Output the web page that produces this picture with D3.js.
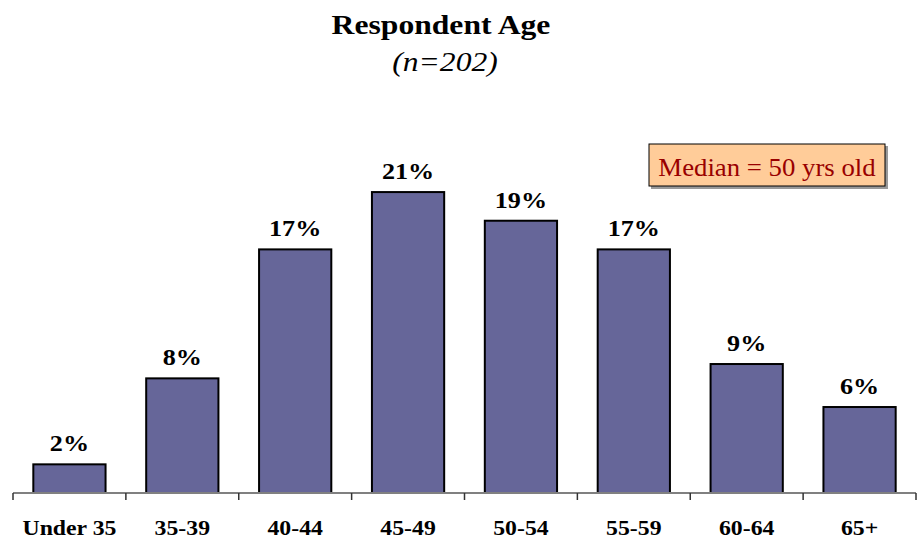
<!DOCTYPE html>
<html>
<head>
<meta charset="utf-8">
<script src="https://cdn.jsdelivr.net/npm/d3@7"></script>
<style>
  body { margin: 0; background: #fff; }
  text { font-family: "Liberation Serif", "Times New Roman", serif; }
</style>
</head>
<body>
<div id="chart-area"></div>
<script>
// data
var categories = ["Under 35", "35-39", "40-44", "45-49", "50-54", "55-59", "60-64", "65+"];
var values = [2, 8, 17, 21, 19, 17, 9, 6];
var medianNote = "Median = 50 yrs old";

var width = 917, height = 539;

var svg = d3.select("#chart-area")
  .append("svg")
  .attr("width", width)
  .attr("height", height);

// the original picture is a bit stretched sideways, so text gets a scaleX
function place(x, y, sx) {
  return "translate(" + x + "," + y + ") scale(" + sx + ",1)";
}

// scales
var xScale = d3.scaleBand()
  .domain(categories)
  .range([13, 916])
  .paddingInner(0.36)
  .paddingOuter(0.18);

var yScale = d3.scaleLinear()
  .domain([0, 25])
  .range([493, 134.75]);

// title
svg.append("text")
  .attr("transform", place(441, 34, 1.13))
  .attr("text-anchor", "middle")
  .attr("font-size", 28)
  .attr("font-weight", "bold")
  .text("Respondent Age");

svg.append("text")
  .attr("transform", place(445, 71, 1.17))
  .attr("text-anchor", "middle")
  .attr("font-size", 27)
  .attr("font-style", "italic")
  .text("(n=202)");

// bars
svg.selectAll("rect.bar")
  .data(values)
  .enter()
  .append("rect")
  .attr("class", "bar")
  .attr("x", function(d, i) { return xScale(categories[i]); })
  .attr("y", function(d) { return yScale(d); })
  .attr("width", xScale.bandwidth())
  .attr("height", function(d) { return yScale(0) - yScale(d); })
  .attr("fill", "#666699")
  .attr("stroke", "#000")
  .attr("stroke-width", 2);

// value labels
svg.selectAll("text.val")
  .data(values)
  .enter()
  .append("text")
  .attr("class", "val")
  .attr("transform", function(d, i) {
    return place(xScale(categories[i]) + xScale.bandwidth() / 2, yScale(d) - 13, 1.09);
  })
  .attr("text-anchor", "middle")
  .attr("font-size", 24)
  .attr("font-weight", "bold")
  .text(function(d) { return d + "%"; });

// x axis (ticks between categories)
var axis = svg.append("g").attr("class", "x-axis");
axis.append("line")
  .attr("x1", 13).attr("x2", 916)
  .attr("y1", yScale(0)).attr("y2", yScale(0))
  .attr("stroke", "#808080")
  .attr("stroke-width", 2);

var tickPos = d3.range(categories.length + 1).map(function(i) { return 13 + i * xScale.step(); });
axis.selectAll("line.tick")
  .data(tickPos)
  .enter()
  .append("line")
  .attr("class", "tick")
  .attr("x1", function(d) { return d; })
  .attr("x2", function(d) { return d; })
  .attr("y1", yScale(0))
  .attr("y2", yScale(0) + 7)
  .attr("stroke", "#333")
  .attr("stroke-width", 1.5);

axis.selectAll("text")
  .data(categories)
  .enter()
  .append("text")
  .attr("transform", function(d) { return place(xScale(d) + xScale.bandwidth() / 2, 535, 1.08); })
  .attr("text-anchor", "middle")
  .attr("font-size", 22)
  .attr("font-weight", "bold")
  .text(function(d) { return d; });

// median box
var note = svg.append("g");
note.append("rect")
  .attr("x", 651).attr("y", 146)
  .attr("width", 237).attr("height", 43)
  .attr("fill", "#999");
note.append("rect")
  .attr("x", 649).attr("y", 144)
  .attr("width", 236).attr("height", 42)
  .attr("fill", "#FFCC99")
  .attr("stroke", "#000")
  .attr("stroke-width", 1);
note.append("text")
  .attr("transform", place(767, 176, 1.03))
  .attr("text-anchor", "middle")
  .attr("font-size", 26)
  .attr("fill", "#990000")
  .text(medianNote);
</script>
</body>
</html>
